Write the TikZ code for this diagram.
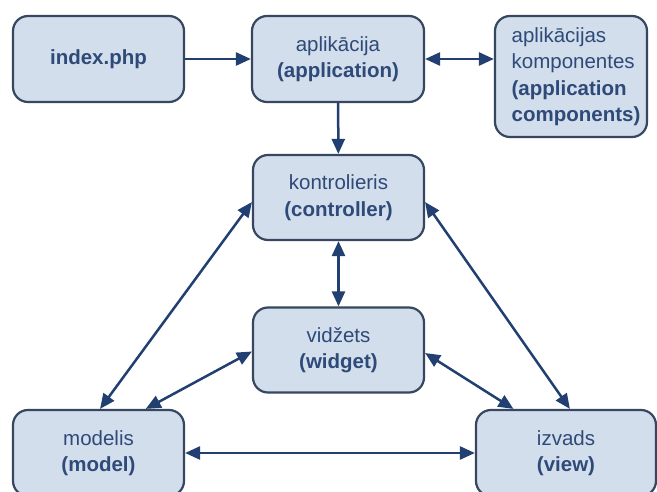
\documentclass[tikz,border=0pt]{standalone}
\usepackage{fontspec}
\setmainfont{Liberation Sans}
\usetikzlibrary{arrows.meta}
\definecolor{boxfill}{HTML}{D3DEEC}
\definecolor{boxline}{HTML}{36475F}
\definecolor{boxtext}{HTML}{2E4A78}
\definecolor{linkcol}{HTML}{213F70}
\tikzset{
  unit/.style={draw=boxline, line width=2.2pt, fill=boxfill, rounded corners=15pt,
    text=boxtext, align=center, inner sep=0pt,
    font=\fontsize{20.5pt}{26.5pt}\selectfont},
  tip/.tip={Triangle[length=15pt,width=13pt]},
  link/.style={draw=linkcol, line width=2.5pt, -tip},
  dlink/.style={link, tip-tip}
}
\begin{document}
\begin{tikzpicture}[x=1pt,y=-1pt]
\useasboundingbox (0,0) rectangle (657,492);
\fill[white] (0,0) rectangle (657,492);

\node[unit, minimum width=171pt, minimum height=86pt] (idx) at (98.5,59) {\textbf{index.php}};
\node[unit, minimum width=172pt, minimum height=86pt] (app) at (338,59) {aplikācija\\\textbf{(application)}};
\node[unit, minimum width=152pt, minimum height=121pt] (comp) at (571,76.5)
  {\hspace*{10pt}\renewcommand{\arraystretch}{1}\setlength{\baselineskip}{26.5pt}%
   \begin{tabular}{@{}l@{}}aplikācijas\\komponentes\\\textbf{(application}\\\textbf{components)}\end{tabular}};
\node[unit, minimum width=171pt, minimum height=85pt] (ctrl) at (338.5,197.5) {kontrolieris\\\textbf{(controller)}};
\node[unit, minimum width=171pt, minimum height=85pt] (wid) at (338.5,350) {vidžets\\\textbf{(widget)}};
\node[unit, minimum width=171pt, minimum height=86pt] (mod) at (98.5,453) {modelis\\\textbf{(model)}};
\node[unit, minimum width=180pt, minimum height=86pt] (view) at (566,453) {izvads\\\textbf{(view)}};

\draw[link] (idx) -- (app);
\draw[dlink] (app) -- (comp.west |- app);
\draw[link] (app) -- (ctrl);
\draw[dlink] (ctrl) -- (wid);
\draw[dlink] (ctrl.183) -- (mod.88);
\draw[dlink] (ctrl.357) -- (view.85);
\draw[dlink] (wid.181) -- (mod.43);
\draw[dlink] (wid.358) -- (view.140);
\draw[dlink] (mod) -- (view);
\end{tikzpicture}
\end{document}
